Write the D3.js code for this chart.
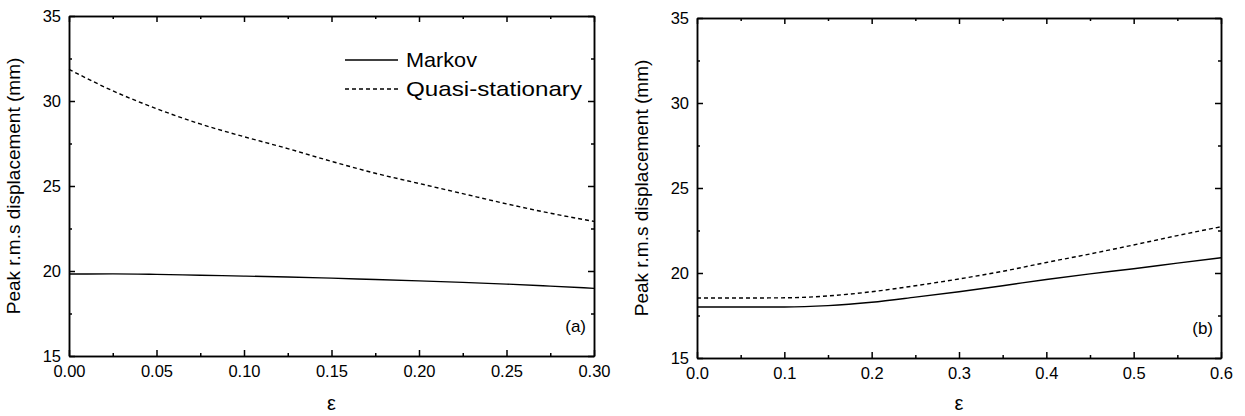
<!DOCTYPE html>
<html>
<head>
<meta charset="utf-8">
<script src="https://cdn.jsdelivr.net/npm/d3@7"></script>
<style>
  body { margin: 0; background: #fff; }
  svg { font-family: "Liberation Sans", Arial, sans-serif; }
  .axis path, .axis line { stroke: #000; stroke-width: 1.5; }
  .axis text { font-size: 16.5px; fill: #000; }
</style>
</head>
<body>
<div id="chart"></div>
<script>
// panel (a)
const epsA = [0, 0.025, 0.05, 0.075, 0.1, 0.125, 0.15, 0.175, 0.2, 0.225, 0.25, 0.275, 0.3];
const markovA = [19.82, 19.83, 19.8, 19.75, 19.7, 19.65, 19.58, 19.5, 19.42, 19.33, 19.23, 19.11, 18.98];
const quasiA = [31.86, 30.6, 29.55, 28.65, 27.9, 27.2, 26.45, 25.75, 25.15, 24.55, 23.95, 23.4, 22.92];

// panel (b)
const epsB = [0, 0.05, 0.1, 0.15, 0.2, 0.25, 0.3, 0.35, 0.4, 0.45, 0.5, 0.55, 0.6];
const markovB = [18.0, 18.0, 18.0, 18.08, 18.28, 18.58, 18.9, 19.25, 19.62, 19.95, 20.25, 20.58, 20.9];
const quasiB = [18.53, 18.53, 18.54, 18.65, 18.9, 19.25, 19.65, 20.1, 20.62, 21.12, 21.65, 22.2, 22.72];

const xTicksA = [0, 0.05, 0.1, 0.15, 0.2, 0.25, 0.3];
const xTicksB = [0, 0.1, 0.2, 0.3, 0.4, 0.5, 0.6];
const yTicks = [15, 20, 25, 30, 35];
const legendLabels = ['Markov', 'Quasi-stationary'];

const width = 1245;
const height = 416;

const svg = d3.select('#chart').append('svg').attr('width', width).attr('height', height);

function panel(opts) {
  const { left, top, w, h, xDomain, xTicks, xFmt, eps, markov, quasi, tag } = opts;
  const g = svg.append('g').attr('transform', `translate(${left}, ${top})`);

  const xScale = d3.scaleLinear().domain(xDomain).range([0, w]);
  const yScale = d3.scaleLinear().domain([15, 35]).range([h, 0]);

  const step = xTicks[1] - xTicks[0];
  const xMinor = xTicks.slice(0, -1).map((d) => d + step / 2);
  const yMinor = yTicks.slice(0, -1).map((d) => d + 2.5);

  // major ticks, inward, all four sides
  g.append('g').attr('class', 'axis').attr('transform', `translate(0, ${h})`)
    .call(d3.axisBottom(xScale).tickValues(xTicks).tickFormat(xFmt).tickSizeInner(-6).tickSizeOuter(0).tickPadding(9));
  g.append('g').attr('class', 'axis')
    .call(d3.axisTop(xScale).tickValues(xTicks).tickFormat('').tickSizeInner(-6).tickSizeOuter(0));
  g.append('g').attr('class', 'axis')
    .call(d3.axisLeft(yScale).tickValues(yTicks).tickFormat(d3.format('d')).tickSizeInner(-6).tickSizeOuter(0).tickPadding(8));
  g.append('g').attr('class', 'axis').attr('transform', `translate(${w}, 0)`)
    .call(d3.axisRight(yScale).tickValues(yTicks).tickFormat('').tickSizeInner(-6).tickSizeOuter(0));

  // minor ticks
  g.append('g').attr('class', 'axis').attr('transform', `translate(0, ${h})`)
    .call(d3.axisBottom(xScale).tickValues(xMinor).tickFormat('').tickSizeInner(-3).tickSizeOuter(0));
  g.append('g').attr('class', 'axis')
    .call(d3.axisTop(xScale).tickValues(xMinor).tickFormat('').tickSizeInner(-3).tickSizeOuter(0));
  g.append('g').attr('class', 'axis')
    .call(d3.axisLeft(yScale).tickValues(yMinor).tickFormat('').tickSizeInner(-3).tickSizeOuter(0));
  g.append('g').attr('class', 'axis').attr('transform', `translate(${w}, 0)`)
    .call(d3.axisRight(yScale).tickValues(yMinor).tickFormat('').tickSizeInner(-3).tickSizeOuter(0));

  const line = d3.line()
    .x((d) => xScale(d[0]))
    .y((d) => yScale(d[1]))
    .curve(d3.curveMonotoneX);

  g.append('path')
    .datum(d3.zip(eps, markov))
    .attr('fill', 'none')
    .attr('stroke', '#000')
    .attr('stroke-width', 1.4)
    .attr('d', line);

  g.append('path')
    .datum(d3.zip(eps, quasi))
    .attr('fill', 'none')
    .attr('stroke', '#000')
    .attr('stroke-width', 1.4)
    .attr('stroke-dasharray', '4,3')
    .attr('d', line);

  g.append('text')
    .attr('x', w - 8)
    .attr('y', h - 24)
    .attr('text-anchor', 'end')
    .attr('font-size', 17)
    .text(tag);

  g.append('text')
    .attr('x', w / 2)
    .attr('y', 410 - top)
    .attr('text-anchor', 'middle')
    .attr('font-size', 20)
    .text('ε');

  g.append('text')
    .attr('transform', `translate(-49, ${h / 2}) rotate(-90)`)
    .attr('text-anchor', 'middle')
    .attr('font-size', 19)
    .text('Peak r.m.s displacement (mm)');

  return { g, xScale, yScale };
}

const a = panel({
  left: 69, top: 16, w: 525, h: 340,
  xDomain: [0, 0.3], xTicks: xTicksA, xFmt: d3.format('.2f'),
  eps: epsA, markov: markovA, quasi: quasiA, tag: '(a)'
});

panel({
  left: 697, top: 18, w: 524, h: 340,
  xDomain: [0, 0.6], xTicks: xTicksB, xFmt: d3.format('.1f'),
  eps: epsB, markov: markovB, quasi: quasiB, tag: '(b)'
});

// legend in panel (a)
const legendWidths = [71, 176];
const legend = a.g.append('g').attr('transform', 'translate(276, 44)');
legendLabels.forEach((label, i) => {
  const y = i * 29;
  legend.append('line')
    .attr('x1', 0).attr('x2', 53)
    .attr('y1', y).attr('y2', y)
    .attr('stroke', '#000')
    .attr('stroke-width', 1.4)
    .attr('stroke-dasharray', i === 0 ? null : '4,3');
  legend.append('text')
    .attr('x', 61)
    .attr('y', y + 7)
    .attr('font-size', 21)
    .attr('textLength', legendWidths[i])
    .attr('lengthAdjust', 'spacingAndGlyphs')
    .text(label);
});
</script>
</body>
</html>
